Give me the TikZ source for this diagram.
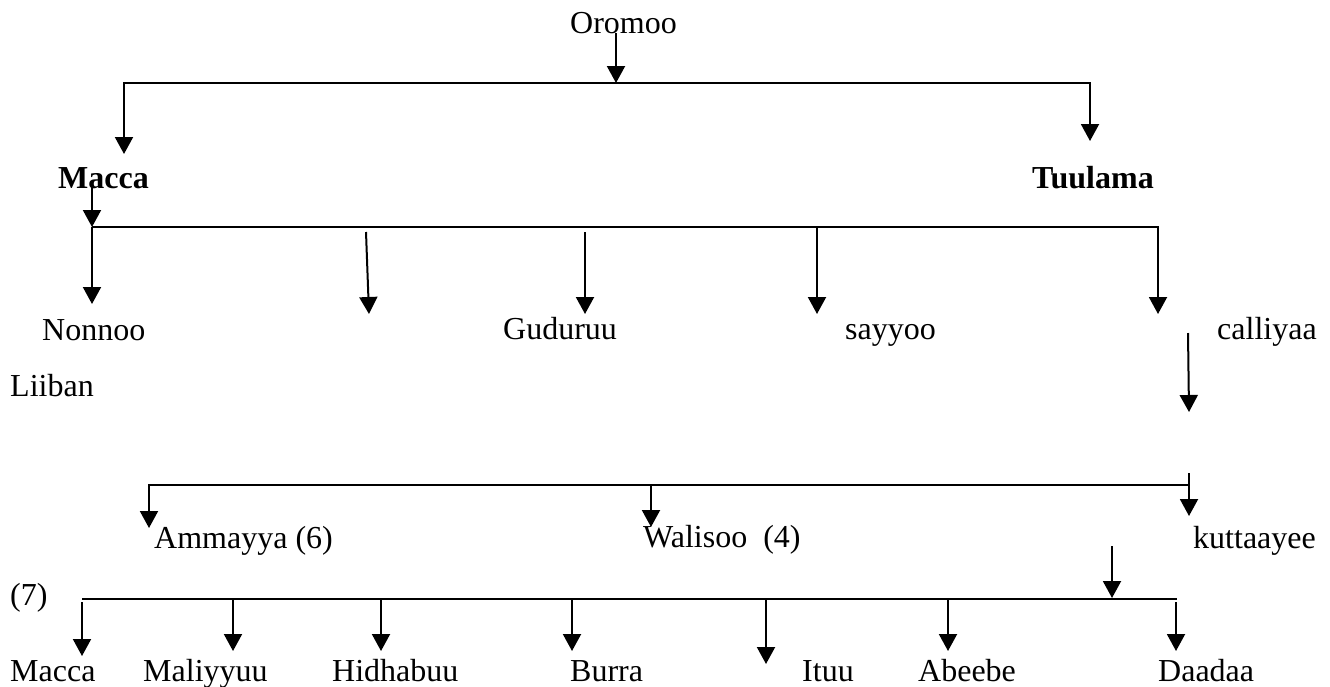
\documentclass[tikz,border=0pt]{standalone}
\usepackage{fontspec}
\setmainfont{Liberation Serif}
\usetikzlibrary{arrows.meta}
\begin{document}
\begin{tikzpicture}[x=1pt,y=-1pt,
  lbl/.style={anchor=base west,inner sep=0pt,font=\fontsize{32}{38}\selectfont},
  blbl/.style={lbl,font=\fontsize{32}{38}\selectfont\bfseries},
  conn/.style={line width=2pt,line join=miter},
  arr/.style={conn,-{Triangle[length=17pt,width=18pt]}}]
\useasboundingbox (0,0) rectangle (1330,686);
\fill[white] (0,0) rectangle (1330,686);
% texts
\node[lbl]  (oromoo)  at (570,33)  {Oromoo};
\node[blbl] (macca)   at (58,188)  {Macca};
\node[blbl] (tuulama) at (1032,188) {Tuulama};
\node[lbl]  (nonnoo)  at (42,340)  {Nonnoo};
\node[lbl]  (guduruu) at (503,339) {Guduruu};
\node[lbl]  (sayyoo)  at (845,339) {sayyoo};
\node[lbl]  (calliyaa) at (1217,339) {calliyaa};
\node[lbl]  (liiban)  at (10,396)  {Liiban};
\node[lbl]  (ammayya) at (154,548) {Ammayya (6)};
\node[lbl]  (walisoo) at (643,547) {Walisoo\ \ (4)};
\node[lbl]  (kuttaayee) at (1193,548) {kuttaayee};
\node[lbl]  (seven)   at (10,605)  {(7)};
\node[lbl]  (macca2)  at (10,681)  {Macca};
\node[lbl]  (maliyyuu) at (143,681) {Maliyyuu};
\node[lbl]  (hidhabuu) at (332,681) {Hidhabuu};
\node[lbl]  (burra)   at (570,681) {Burra};
\node[lbl]  (ituu)    at (802,681) {Ituu};
\node[lbl]  (abeebe)  at (918,681) {Abeebe};
\node[lbl]  (daadaa)  at (1158,681) {Daadaa};
% coordinates
\coordinate (o0) at (616,33);  \coordinate (o1) at (616,83);
\coordinate (l1a) at (124,83); \coordinate (l1b) at (1090,83);
\coordinate (t1a) at (124,154); \coordinate (t1b) at (1090,141);
\coordinate (m0) at (92,187); \coordinate (m1) at (92,227);
\coordinate (l2b) at (1158,227); \coordinate (t2b) at (1158,314);
\coordinate (t2a) at (92,304);
\coordinate (f1a) at (366,232); \coordinate (f1b) at (369,314);
\coordinate (f2a) at (585,232); \coordinate (f2b) at (585,314);
\coordinate (f3a) at (817,227); \coordinate (f3b) at (817,314);
\coordinate (c0) at (1188,333); \coordinate (c1) at (1189,412);
\coordinate (l3a) at (149,485); \coordinate (l3b) at (1189,485);
\coordinate (t3a) at (149,528);
\coordinate (w0) at (651,485); \coordinate (w1) at (651,527);
\coordinate (k0) at (1189,473); \coordinate (k1) at (1189,516);
\coordinate (u0) at (1112,546); \coordinate (u1) at (1112,598);
\coordinate (l4a) at (82,599); \coordinate (l4b) at (1177,599);
\coordinate (b1a) at (82,602);   \coordinate (b1b) at (82,656);
\coordinate (b2a) at (233,599);  \coordinate (b2b) at (233,651);
\coordinate (b3a) at (381,599);  \coordinate (b3b) at (381,651);
\coordinate (b4a) at (572,599);  \coordinate (b4b) at (572,651);
\coordinate (b5a) at (766,599);  \coordinate (b5b) at (766,664);
\coordinate (b6a) at (948,599);  \coordinate (b6b) at (948,651);
\coordinate (b7a) at (1176,602); \coordinate (b7b) at (1176,651);
% connectors
\draw[arr] (o0) -- (o1);
\draw[arr] (o1) -- (l1a) -- (t1a);
\draw[arr] (o1) -- (l1b) -- (t1b);
\draw[arr] (m0) -- (m1);
\draw[arr] (m1) -- (t2a);
\draw[arr] (m1) -- (l2b) -- (t2b);
\draw[arr] (f1a) -- (f1b);
\draw[arr] (f2a) -- (f2b);
\draw[arr] (f3a) -- (f3b);
\draw[arr] (c0) -- (c1);
\draw[arr] (l3b) -- (l3a) -- (t3a);
\draw[arr] (w0) -- (w1);
\draw[arr] (k0) -- (k1);
\draw[arr] (u0) -- (u1);
\draw[conn] (l4a) -- (l4b);
\foreach \i in {1,...,7} \draw[arr] (b\i a) -- (b\i b);
\end{tikzpicture}
\end{document}
